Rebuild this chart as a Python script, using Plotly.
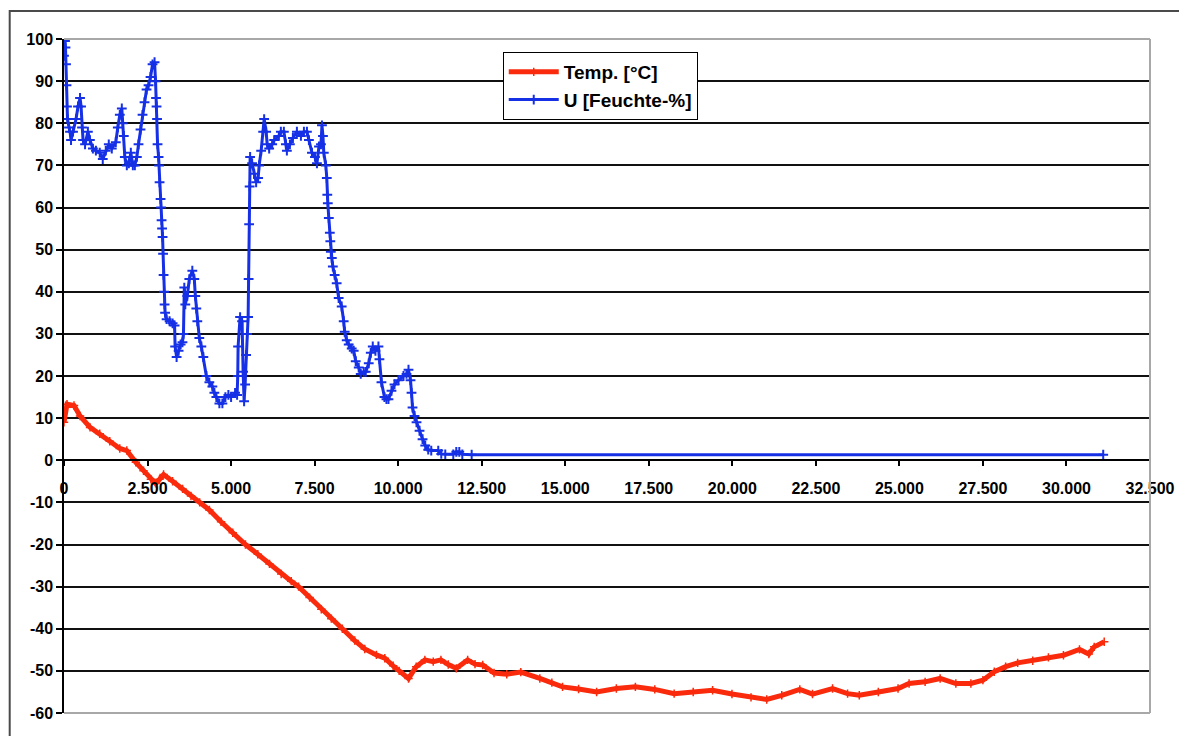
import plotly.graph_objects as go

# ---- data ----
temp_x = [0, 90, 300, 480, 780, 1070, 1370, 1670, 1880, 2150, 2380, 2600, 2740, 2860, 2980,
          3250, 3550, 3800, 4060, 4350, 4700, 5050, 5430, 5800, 6150, 6500, 6800, 7020, 7350,
          7700, 8000, 8330, 8700, 9000, 9350, 9600, 9850, 10030, 10310, 10540, 10800, 11050,
          11280, 11500, 11740, 12080, 12300, 12530, 12870, 13250, 13670, 14240, 14600, 14920,
          15400, 15940, 16530, 17100, 17680, 18260, 18830, 19410, 19990, 20560, 21030, 21480,
          22020, 22400, 23000, 23450, 23800, 24370, 24960, 25290, 25770, 26220, 26690, 27140,
          27500, 27840, 28180, 28540, 28990, 29460, 29910, 30390, 30670, 30830, 31130]
temp_y = [9.0, 13.3, 13.0, 10.5, 7.8, 6.3, 4.5, 2.8, 2.3, -0.5, -2.5, -4.5, -5.5, -4.5, -3.4,
          -5.0, -6.8, -8.5, -10.0, -11.8, -14.6, -17.2, -20.0, -22.3, -24.6, -27.0, -28.7, -30.0, -32.6,
          -35.4, -37.6, -40.0, -42.8, -44.8, -46.2, -47.0, -48.8, -50.0, -51.8, -49.0, -47.4, -47.8,
          -47.4, -48.5, -49.4, -47.4, -48.4, -48.6, -50.5, -50.8, -50.3, -51.8, -52.8, -53.8,
          -54.3, -55.0, -54.2, -53.8, -54.4, -55.4, -55.0, -54.6, -55.5, -56.3, -56.8, -55.8,
          -54.4, -55.5, -54.2, -55.4, -55.8, -55.0, -54.2, -53.0, -52.6, -51.8, -53.0, -53.0,
          -52.2, -50.2, -49.0, -48.1, -47.6, -46.8, -46.3, -44.9, -46.0, -44.3, -43.1]

hum_x = [0, 30, 45, 60, 75, 90, 105, 150, 180, 210, 270, 360, 420, 480, 510, 540, 570, 630, 715,
         775, 865, 955, 1070, 1160, 1250, 1340, 1430, 1550, 1610, 1670, 1730, 1760, 1790, 1820,
         1880, 1940, 2000, 2060, 2120, 2180, 2230, 2290, 2350, 2410, 2470, 2530, 2590, 2650, 2710,
         2740, 2755, 2770, 2785, 2800, 2830, 2845, 2860, 2890, 2905, 2920, 2935, 2950, 2965, 2980,
         2995, 3010, 3025, 3070, 3160, 3250, 3310, 3325, 3370, 3430, 3490, 3545, 3575, 3600, 3630,
         3690, 3750, 3840, 3900, 3930, 3960, 3990, 4050, 4110, 4170, 4260, 4350, 4440, 4500, 4560,
         4650, 4740, 4830, 4920, 5000, 5120, 5180, 5200, 5210, 5270, 5330, 5360, 5390, 5420, 5450,
         5480, 5510, 5525, 5540, 5555, 5570, 5630, 5690, 5750, 5810, 5840, 5900, 5960, 5990, 6050,
         6080, 6140, 6230, 6290, 6430, 6490, 6580, 6640, 6670, 6760, 6850, 6970, 7090, 7180, 7270,
         7330, 7420, 7510, 7570, 7630, 7690, 7720, 7750, 7775, 7835, 7865, 7880, 7895, 7925, 7955,
         7970, 7985, 8015, 8045, 8100, 8160, 8220, 8310, 8370, 8400, 8460, 8520, 8610, 8670, 8730,
         8820, 8880, 8970, 9030, 9120, 9180, 9240, 9320, 9410, 9440, 9500, 9590, 9650, 9710, 9800,
         9890, 10010, 10160, 10250, 10310, 10370, 10400, 10430, 10490, 10550, 10640, 10730, 10810,
         10900, 10990, 11200, 11290, 11410, 11650, 11740, 11830, 11920, 12200, 31100]
hum_y = [96, 99.5, 98, 94, 89, 84, 81, 79, 78, 76, 78, 81, 84, 86, 84, 79, 76, 75, 78,
         76, 74, 73.5, 73, 71.5, 73.5, 75, 74, 75.5, 79, 82, 83.5, 80, 77, 72,
         70, 70.5, 73, 70, 70, 72, 75, 78.5, 82, 85, 88, 89, 91, 94, 94.5,
         90, 86, 84, 81, 75, 72, 70, 66, 62, 60, 57, 55, 53, 49, 44,
         40, 37, 35, 33.5, 33, 32.5, 32, 27, 24.5, 26, 27.5, 28, 30, 41, 37,
         39, 43, 45, 43, 39, 36, 33, 29, 27, 24.5, 20, 18.5, 17.5, 16, 15,
         13.5, 13.5, 15, 15.5, 15, 16, 15.5, 20, 27, 34, 33, 21, 14, 18, 25,
         30, 34, 43, 56, 65, 72, 70.5, 68, 66, 67, 70, 73.5, 78, 81, 78,
         75, 74, 75, 76, 77, 78, 78, 75, 73.5, 75, 76.5, 78, 77, 78, 78,
         76, 73, 72, 70.5, 74.5, 75, 79.5, 77, 73, 70, 67, 63, 61, 57.5, 54,
         52, 49.5, 48, 46, 44, 42, 38.5, 36.5, 33, 30.5, 28.5, 27.5, 26.5, 26, 23.5,
         22, 20.5, 21, 21, 23, 25.5, 27, 26, 27, 24, 18.5, 15, 14.5, 14.5, 16.5,
         18, 19, 20, 20.5, 21.5, 19, 16, 12.5, 10.5, 9, 7, 5, 3.5,
         2.5, 2.3, 2.3, 1.5, 1.4, 1.4, 2, 2, 1.4, 1.3, 1.3]

x_ticks = [0, 2500, 5000, 7500, 10000, 12500, 15000, 17500, 20000, 22500, 25000, 27500, 30000, 32500]
x_labels = ["0", "2.500", "5.000", "7.500", "10.000", "12.500", "15.000", "17.500", "20.000",
            "22.500", "25.000", "27.500", "30.000", "32.500"]
y_ticks = [-60, -50, -40, -30, -20, -10, 0, 10, 20, 30, 40, 50, 60, 70, 80, 90, 100]
y_labels = ["-60", "-50", "-40", "-30", "-20", "-10", "0", "10", "20", "30", "40", "50",
            "60", "70", "80", "90", "100"]

RED = "#fa2a0c"
BLUE = "#1630e6"
FONT = "Liberation Sans, Arial, sans-serif"

fig = go.Figure()
fig.add_trace(go.Scatter(
    x=temp_x, y=temp_y, name="<b>Temp. [°C]</b>", mode="lines+markers",
    line=dict(color=RED, width=5),
    marker=dict(symbol="cross-thin", size=6, line=dict(color=RED, width=1.5), color=RED),
))
fig.add_trace(go.Scatter(
    x=hum_x, y=hum_y, name="<b>U [Feuchte-%]</b>", mode="lines+markers",
    line=dict(color=BLUE, width=3),
    marker=dict(symbol="cross-thin", size=7, line=dict(color=BLUE, width=2), color=BLUE),
))

# plot-area frame (gray) and outer chart border
shapes = [
    dict(type="line", xref="paper", yref="paper", x0=0, x1=1, y0=1, y1=1,
         line=dict(color="#a8a8a8", width=2), layer="above"),
    dict(type="line", xref="paper", yref="paper", x0=1, x1=1, y0=0, y1=1,
         line=dict(color="#a8a8a8", width=2), layer="above"),
    dict(type="line", xref="paper", yref="paper", x0=0, x1=1, y0=0, y1=0,
         line=dict(color="#a8a8a8", width=2), layer="above"),
    dict(type="rect", xref="paper", yref="paper", x0=-0.0500, x1=1.06, y0=-0.06, y1=1.0415,
         line=dict(color="#4a4a4a", width=2), layer="above"),
]

fig.update_layout(
    width=1179, height=728,
    margin=dict(l=56, r=32, t=31, b=23),
    paper_bgcolor="white", plot_bgcolor="white",
    showlegend=True,
    legend=dict(
        x=0.404, y=0.9807, xanchor="left", yanchor="top",
        bgcolor="white", bordercolor="black", borderwidth=1,
        font=dict(family=FONT, size=19, color="black"),
        tracegroupgap=0, itemwidth=50,
    ),
    shapes=shapes,
    xaxis=dict(
        range=[0, 32500], tickvals=x_ticks, ticktext=["<b>%s</b>" % t for t in x_labels],
        anchor="free", position=0.375,
        showgrid=False, zeroline=False,
        showline=True, linecolor="black", linewidth=1.5,
        ticks="outside", ticklen=5, tickcolor="black", tickwidth=1.5,
        ticklabelstandoff=9,
        tickfont=dict(family=FONT, size=16, color="black"),
    ),
    yaxis=dict(
        range=[-60, 100], tickvals=y_ticks, ticktext=["<b>%s</b>" % t for t in y_labels],
        showgrid=True, gridcolor="#111111", gridwidth=1.5,
        zeroline=False,
        showline=True, linecolor="black", linewidth=1.5,
        ticks="outside", ticklen=6, tickcolor="black", tickwidth=1.5,
        tickfont=dict(family=FONT, size=16, color="black"),
    ),
)

fig.write_html("out.html")
